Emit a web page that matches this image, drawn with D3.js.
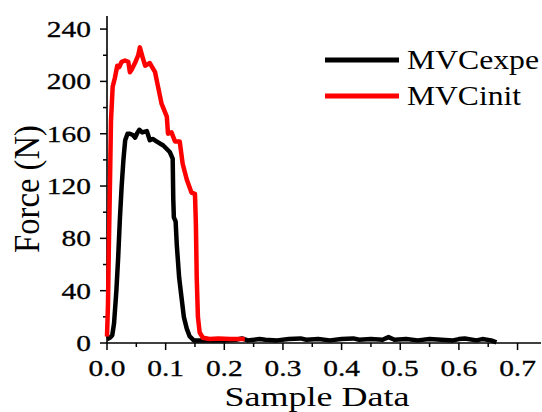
<!DOCTYPE html>
<html>
<head>
<meta charset="utf-8">
<script src="https://cdn.jsdelivr.net/npm/d3@7"></script>
<style>
  body { margin: 0; background: #fff; }
  text { font-family: "Liberation Serif", "Times New Roman", serif; fill: #000; }
</style>
</head>
<body>
<script>
// values (x = sample data, y = force in N)
var seriesNames = ["MVCexpe", "MVCinit"];
var seriesColors = ["#000000", "#ff0000"];

var expeX = [0, 0.005, 0.009, 0.012, 0.016, 0.019, 0.022, 0.025, 0.028, 0.031, 0.035, 0.039, 0.044, 0.048, 0.051, 0.055, 0.06, 0.068, 0.073, 0.078, 0.085, 0.096, 0.107, 0.112, 0.113, 0.114, 0.117, 0.119, 0.123, 0.127, 0.131, 0.136, 0.141, 0.148,
  0.16, 0.18, 0.2, 0.22, 0.23, 0.24, 0.26, 0.27, 0.29, 0.31, 0.33, 0.34, 0.36, 0.38, 0.4, 0.42, 0.43, 0.45, 0.47, 0.48, 0.49, 0.51, 0.53, 0.55, 0.57, 0.59, 0.6, 0.61, 0.63, 0.64, 0.655, 0.664];
var expeY = [3, 4, 6, 15, 40, 65, 95, 120, 140, 155, 160, 160, 159, 157, 160, 163, 161, 162, 155, 156, 154, 151, 146, 141, 110, 96, 93, 75, 50, 35, 20, 11, 5, 2,
  2, 2, 2, 2.5, 3.5, 2, 3, 2.5, 2, 3, 3.5, 2.5, 3, 2, 3, 3.5, 2.5, 3, 2.5, 4.5, 2.5, 3, 2, 3, 2.5, 2, 3, 3.5, 2, 3, 2, 0.5];

var initX = [0, 0.0017, 0.0034, 0.005, 0.0068, 0.0097, 0.0136, 0.0175, 0.021, 0.025, 0.0307, 0.0363, 0.039, 0.042, 0.0477, 0.0533, 0.056, 0.061, 0.065, 0.073, 0.082, 0.087, 0.093, 0.102, 0.104, 0.11, 0.116, 0.124, 0.129, 0.136, 0.144, 0.15, 0.1516, 0.153, 0.155, 0.158, 0.1635, 0.175, 0.19, 0.21, 0.235];
var initY = [5, 30, 80, 120, 170, 196, 203, 212, 211, 215, 216, 215, 207, 209, 214, 220, 226, 218, 212, 214, 207, 196, 183, 173, 160, 161, 154, 154, 137, 125, 115, 114, 90, 50, 20, 8, 4, 3, 3.5, 3, 3];

var xTicks = [0, 0.1, 0.2, 0.3, 0.4, 0.5, 0.6, 0.7];
var yTicks = [0, 40, 80, 120, 160, 200, 240];

var W = 542, H = 412;
var margin = {top: 16, right: 1, bottom: 69, left: 107};

var svg = d3.select("body").append("svg")
    .attr("width", W)
    .attr("height", H);

var x = d3.scaleLinear().domain([0, 0.74]).range([margin.left, W - margin.right]);
var y = d3.scaleLinear().domain([0, 250]).range([H - margin.bottom, margin.top]);

var stretch = 1.28; // the picture's text is wider than it is tall

// minor ticks
var xMinor = d3.range(0.05, 0.74, 0.1);
var yMinor = d3.range(20, 250, 40);

var gx = svg.append("g").attr("transform", "translate(0," + y(0) + ")");
gx.append("line").attr("x1", x(0)).attr("x2", x(0.74)).attr("stroke", "#000").attr("stroke-width", 1.6);
gx.selectAll(".maj").data(xTicks).enter().append("line")
  .attr("x1", d => x(d)).attr("x2", d => x(d)).attr("y1", 0).attr("y2", 7)
  .attr("stroke", "#000").attr("stroke-width", 1.5);
gx.selectAll(".min").data(xMinor).enter().append("line")
  .attr("x1", d => x(d)).attr("x2", d => x(d)).attr("y1", 0).attr("y2", 4)
  .attr("stroke", "#000").attr("stroke-width", 1.5);
gx.selectAll(".lab").data(xTicks).enter().append("text")
  .attr("transform", d => "translate(" + x(d) + ",33) scale(" + stretch + ",1)")
  .attr("text-anchor", "middle")
  .style("font-size", "23px")
  .style("stroke", "#000").style("stroke-width", 0.3)
  .text(d => d.toFixed(1));

var gy = svg.append("g").attr("transform", "translate(" + x(0) + ",0)");
gy.append("line").attr("y1", y(0)).attr("y2", y(250)).attr("stroke", "#000").attr("stroke-width", 1.6);
gy.selectAll(".maj").data(yTicks).enter().append("line")
  .attr("y1", d => y(d)).attr("y2", d => y(d)).attr("x1", 0).attr("x2", -7)
  .attr("stroke", "#000").attr("stroke-width", 1.5);
gy.selectAll(".min").data(yMinor).enter().append("line")
  .attr("y1", d => y(d)).attr("y2", d => y(d)).attr("x1", 0).attr("x2", -4)
  .attr("stroke", "#000").attr("stroke-width", 1.5);
gy.selectAll(".lab").data(yTicks).enter().append("text")
  .attr("transform", d => "translate(-16," + (y(d) + 8) + ") scale(" + stretch + ",1)")
  .attr("text-anchor", "end")
  .style("font-size", "23px")
  .style("stroke", "#000").style("stroke-width", 0.3)
  .text(d => d);

// axis titles
svg.append("text")
  .attr("x", 317).attr("y", 406)
  .attr("text-anchor", "middle")
  .attr("textLength", 185).attr("lengthAdjust", "spacingAndGlyphs")
  .style("font-size", "27px")
  .text("Sample Data");

svg.append("text")
  .attr("transform", "translate(39,189) scale(1.25,1) rotate(-90)")
  .attr("text-anchor", "middle")
  .attr("textLength", 128).attr("lengthAdjust", "spacingAndGlyphs")
  .style("font-size", "29px")
  .text("Force (N)");

// lines
var line = d3.line().x(d => x(d[0])).y(d => y(d[1]));
var series = [d3.zip(expeX, expeY), d3.zip(initX, initY)];

svg.selectAll(".series").data(series).enter().append("path")
  .attr("class", "series")
  .attr("d", line)
  .attr("fill", "none")
  .attr("stroke", (d, i) => seriesColors[i])
  .attr("stroke-width", 4.5)
  .attr("stroke-linejoin", "round");

// legend
var legendLen = [132, 114];
var leg = svg.selectAll(".leg").data(seriesNames).enter().append("g")
  .attr("transform", (d, i) => "translate(325," + (60 + i * 36) + ")");
leg.append("line").attr("x1", 0).attr("x2", 74)
  .attr("stroke", (d, i) => seriesColors[i]).attr("stroke-width", 5);
leg.append("text")
  .attr("x", 82).attr("y", 9)
  .attr("textLength", (d, i) => legendLen[i]).attr("lengthAdjust", "spacingAndGlyphs")
  .style("font-size", "27px")
  .text(d => d);
</script>
</body>
</html>
